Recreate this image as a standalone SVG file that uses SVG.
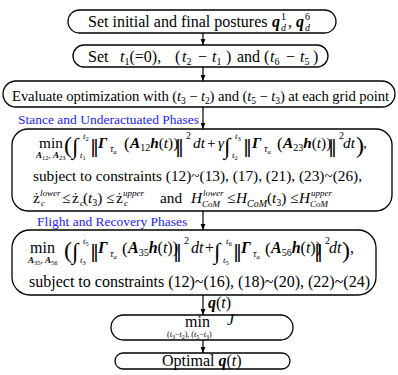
<svg xmlns="http://www.w3.org/2000/svg" width="398" height="375" viewBox="0 0 398 375">
<defs>
<style>
text{font-family:"Liberation Serif","DejaVu Serif",serif;fill:#000;font-size:16px}
.box{fill:#fff;stroke:#000;stroke-width:1.3}
.con{stroke:#000;stroke-width:1.2;fill:none}
.i{font-style:italic}
.bi{font-style:italic;font-weight:bold}
.lab{fill:#2323ff;font-size:13.5px}
.nb{font-family:"DejaVu Sans",sans-serif;font-size:18px}
.int{font-size:23px}
.s{font-size:10px}
.ss{font-size:9px}
.xs{font-size:6.5px}
</style>
<marker id="ah" viewBox="0 0 10 10" refX="10" refY="5" markerWidth="6" markerHeight="6" markerUnits="userSpaceOnUse" orient="auto">
<path d="M0,1 L10,5 L0,9 z" fill="#000"/>
</marker>
</defs>
<rect width="398" height="375" fill="#fff"/>

<g id="connectors">
<line class="con" x1="203" y1="33" x2="203" y2="45" marker-end="url(#ah)"/>
<line class="con" x1="203" y1="67" x2="203" y2="81" marker-end="url(#ah)"/>
<line class="con" x1="203" y1="107" x2="203" y2="129" marker-end="url(#ah)"/>
<line class="con" x1="203" y1="211" x2="203" y2="230" marker-end="url(#ah)"/>
<line class="con" x1="203" y1="295" x2="203" y2="315" marker-end="url(#ah)"/>
<line class="con" x1="203" y1="340" x2="203" y2="353" marker-end="url(#ah)"/>
<text class="lab" x="18" y="123.5">Stance and Underactuated Phases</text>
<text class="lab" x="37" y="226">Flight and Recovery Phases</text>
<text y="308"><tspan x="208" class="bi">q</tspan><tspan>(</tspan><tspan class="i">t</tspan><tspan>)</tspan></text>
</g>

<g id="n1">
<rect class="box" x="68" y="10" width="268" height="23" rx="11.5"/>
<text x="88" y="27">Set initial and final postures</text>
<text class="bi" x="272" y="27">q</text>
<text class="s" x="281" y="20">1</text>
<text class="s i" x="281" y="31">d</text>
<text x="288" y="27">,</text>
<text class="bi" x="296" y="27">q</text>
<text class="s" x="305" y="20">6</text>
<text class="s i" x="305" y="31">d</text>
</g>

<g id="n2">
<rect class="box" x="73" y="45" width="255" height="22" rx="11"/>
<text y="62"><tspan x="88">Set</tspan><tspan x="120" class="i">t</tspan><tspan class="s" dy="3">1</tspan><tspan dy="-3">(=0),</tspan><tspan x="175">(</tspan><tspan class="i" x="182">t</tspan><tspan class="s" dy="3">2</tspan><tspan dy="-3" x="198">−</tspan><tspan class="i" x="212">t</tspan><tspan class="s" dy="3">1</tspan><tspan dy="-3" x="226">)</tspan><tspan x="237">and</tspan><tspan x="264">(</tspan><tspan class="i" x="270">t</tspan><tspan class="s" dy="3">6</tspan><tspan dy="-3" x="286">−</tspan><tspan class="i" x="300">t</tspan><tspan class="s" dy="3">5</tspan><tspan dy="-3" x="313">)</tspan></text>
</g>

<g id="n3">
<rect class="box" x="3" y="81" width="392" height="26" rx="13"/>
<text x="12" y="101" style="font-size:14.7px" textLength="377" lengthAdjust="spacing">Evaluate optimization with (<tspan class="i">t</tspan><tspan style="font-size:9.5px" dy="3">3</tspan><tspan dy="-3"> − </tspan><tspan class="i">t</tspan><tspan style="font-size:9.5px" dy="3">2</tspan><tspan dy="-3">) and (</tspan><tspan class="i">t</tspan><tspan style="font-size:9.5px" dy="3">5</tspan><tspan dy="-3"> − </tspan><tspan class="i">t</tspan><tspan style="font-size:9.5px" dy="3">3</tspan><tspan dy="-3">) at each grid point</tspan></text>
</g>

<g id="n4">
<rect class="box" x="12" y="129" width="380" height="82" rx="16"/>
<text style="font-size:15.3px" x="39" y="148">min</text>
<text class="ss" y="158"><tspan x="36" class="bi">A</tspan><tspan class="xs" dy="2">12</tspan><tspan dy="-2">, </tspan><tspan class="bi">A</tspan><tspan class="xs" dy="2">23</tspan></text>
<text x="64" y="153" style="font-size:24px">(</text>
<text class="int" x="72" y="154">∫</text>
<text class="ss" y="139"><tspan x="83" class="i">t</tspan><tspan class="xs" dy="2">2</tspan></text>
<text class="ss" y="158"><tspan x="80" class="i">t</tspan><tspan class="xs" dy="2">1</tspan></text>
<text class="nb" x="90" y="153">‖</text>
<text class="bi" style="font-size:15.3px" x="98" y="148">Γ</text>
<text y="152"><tspan x="110" class="i s">τ</tspan><tspan class="i xs" dy="2">a</tspan></text>
<text x="124" y="149" style="font-size:17px">(</text>
<text style="font-size:15.3px" y="148"><tspan x="130" class="bi">A</tspan><tspan class="s" dy="3">12</tspan><tspan dy="-3" class="bi">h</tspan><tspan>(</tspan><tspan class="i">t</tspan><tspan>))</tspan></text>
<text class="nb" x="175" y="153">‖</text>
<text class="s" x="186" y="139">2</text>
<text style="font-size:15.3px" y="148"><tspan x="193" class="i">dt</tspan><tspan x="207">+</tspan><tspan x="218" class="i">γ</tspan></text>
<text class="int" x="224" y="154">∫</text>
<text class="ss" y="139"><tspan x="235" class="i">t</tspan><tspan class="xs" dy="2">3</tspan></text>
<text class="ss" y="158"><tspan x="232" class="i">t</tspan><tspan class="xs" dy="2">2</tspan></text>
<text class="nb" x="243" y="153">‖</text>
<text class="bi" style="font-size:15.3px" x="252" y="148">Γ</text>
<text y="152"><tspan x="264" class="i s">τ</tspan><tspan class="i xs" dy="2">a</tspan></text>
<text x="277" y="149" style="font-size:17px">(</text>
<text style="font-size:15.3px" y="148"><tspan x="283" class="bi">A</tspan><tspan class="s" dy="3">23</tspan><tspan dy="-3" class="bi">h</tspan><tspan>(</tspan><tspan class="i">t</tspan><tspan>))</tspan></text>
<text class="nb" x="328" y="153">‖</text>
<text class="s" x="339" y="139">2</text>
<text style="font-size:15.3px" class="i" x="343" y="148">dt</text>
<text x="356" y="153" style="font-size:24px">)</text>
<text style="font-size:15.3px" x="363" y="148">,</text>
<text style="font-size:15.3px" x="33" y="181" textLength="329" lengthAdjust="spacing">subject to constraints (12)~(13), (17), (21), (23)~(26),</text>
<text style="font-size:15.3px" y="203"><tspan x="33">ż</tspan><tspan x="62">≤</tspan><tspan x="72">ż</tspan><tspan x="83">(</tspan><tspan class="i">t</tspan><tspan class="s" dy="3">3</tspan><tspan dy="-3">)</tspan><tspan x="106">≤</tspan><tspan x="116">ż</tspan><tspan x="160">and</tspan><tspan x="191" class="i">H</tspan><tspan x="227">≤</tspan><tspan x="236" class="i">H</tspan><tspan x="267">(</tspan><tspan class="i">t</tspan><tspan class="s" dy="3">3</tspan><tspan dy="-3">)</tspan><tspan x="290">≤</tspan><tspan x="299" class="i">H</tspan></text>
<text class="ss i" y="196"><tspan x="40">lower</tspan><tspan x="123">upper</tspan><tspan x="203">lower</tspan><tspan x="311">upper</tspan></text>
<text class="ss i" y="206"><tspan x="41">c</tspan><tspan x="80">c</tspan><tspan x="124">c</tspan></text>
<text class="ss i" y="207"><tspan x="202">CoM</tspan><tspan x="310">CoM</tspan></text>
<text class="s i" x="247" y="207">CoM</text>
</g>

<g id="n5">
<rect class="box" x="12" y="230" width="364" height="65" rx="18"/>
<text x="30" y="253">min</text>
<text class="ss" y="263"><tspan x="28" class="bi">A</tspan><tspan class="xs" dy="2">35</tspan><tspan dy="-2">, </tspan><tspan class="bi">A</tspan><tspan class="xs" dy="2">56</tspan></text>
<text x="64" y="258" style="font-size:24px">(</text>
<text class="int" x="72" y="259">∫</text>
<text class="ss" y="244"><tspan x="83" class="i">t</tspan><tspan class="xs" dy="2">5</tspan></text>
<text class="ss" y="263"><tspan x="80" class="i">t</tspan><tspan class="xs" dy="2">3</tspan></text>
<text class="nb" x="90" y="258">‖</text>
<text class="bi" x="98" y="253">Γ</text>
<text y="257"><tspan x="110" class="i s">τ</tspan><tspan class="i xs" dy="2">a</tspan></text>
<text x="122" y="254" style="font-size:17px">(</text>
<text y="253"><tspan x="128" class="bi">A</tspan><tspan class="s" dy="3">35</tspan><tspan dy="-3" class="bi">h</tspan><tspan>(</tspan><tspan class="i">t</tspan><tspan>))</tspan></text>
<text class="nb" x="173" y="258">‖</text>
<text class="s" x="184" y="244">2</text>
<text y="253"><tspan x="191" class="i">dt</tspan><tspan x="205">+</tspan></text>
<text class="int" x="214" y="259">∫</text>
<text class="ss" y="244"><tspan x="226" class="i">t</tspan><tspan class="xs" dy="2">6</tspan></text>
<text class="ss" y="263"><tspan x="223" class="i">t</tspan><tspan class="xs" dy="2">5</tspan></text>
<text class="nb" x="233" y="258">‖</text>
<text class="bi" x="241" y="253">Γ</text>
<text y="257"><tspan x="253" class="i s">τ</tspan><tspan class="i xs" dy="2">a</tspan></text>
<text x="265" y="254" style="font-size:17px">(</text>
<text y="253"><tspan x="271" class="bi">A</tspan><tspan class="s" dy="3">56</tspan><tspan dy="-3" class="bi">h</tspan><tspan>(</tspan><tspan class="i">t</tspan><tspan>))</tspan></text>
<text class="nb" x="314" y="258">‖</text>
<text class="s" x="325" y="244">2</text>
<text class="i" x="329" y="253">dt</text>
<text x="342" y="258" style="font-size:24px">)</text>
<text x="350" y="253">,</text>
<text x="29" y="287" textLength="341" lengthAdjust="spacing">subject to constraints (12)~(16), (18)~(20), (22)~(24)</text>
</g>

<g id="n6">
<rect class="box" x="111" y="315" width="182" height="25" rx="12.5"/>
<text x="185" y="327">min</text>
<text class="i" x="227" y="325">J</text>
<text style="font-size:8px" y="337"><tspan x="167">(</tspan><tspan class="i">t</tspan><tspan style="font-size:6px" dy="1.5">3</tspan><tspan dy="-1.5">−</tspan><tspan class="i">t</tspan><tspan style="font-size:6px" dy="1.5">2</tspan><tspan dy="-1.5">), (</tspan><tspan class="i">t</tspan><tspan style="font-size:6px" dy="1.5">5</tspan><tspan dy="-1.5">−</tspan><tspan class="i">t</tspan><tspan style="font-size:6px" dy="1.5">3</tspan><tspan dy="-1.5">)</tspan></text>
</g>

<g id="n7">
<rect class="box" x="115" y="353" width="175" height="16" rx="8"/>
<text y="366"><tspan x="162">Optimal </tspan><tspan class="bi">q</tspan><tspan>(</tspan><tspan class="i">t</tspan><tspan>)</tspan></text>
</g>
</svg>
